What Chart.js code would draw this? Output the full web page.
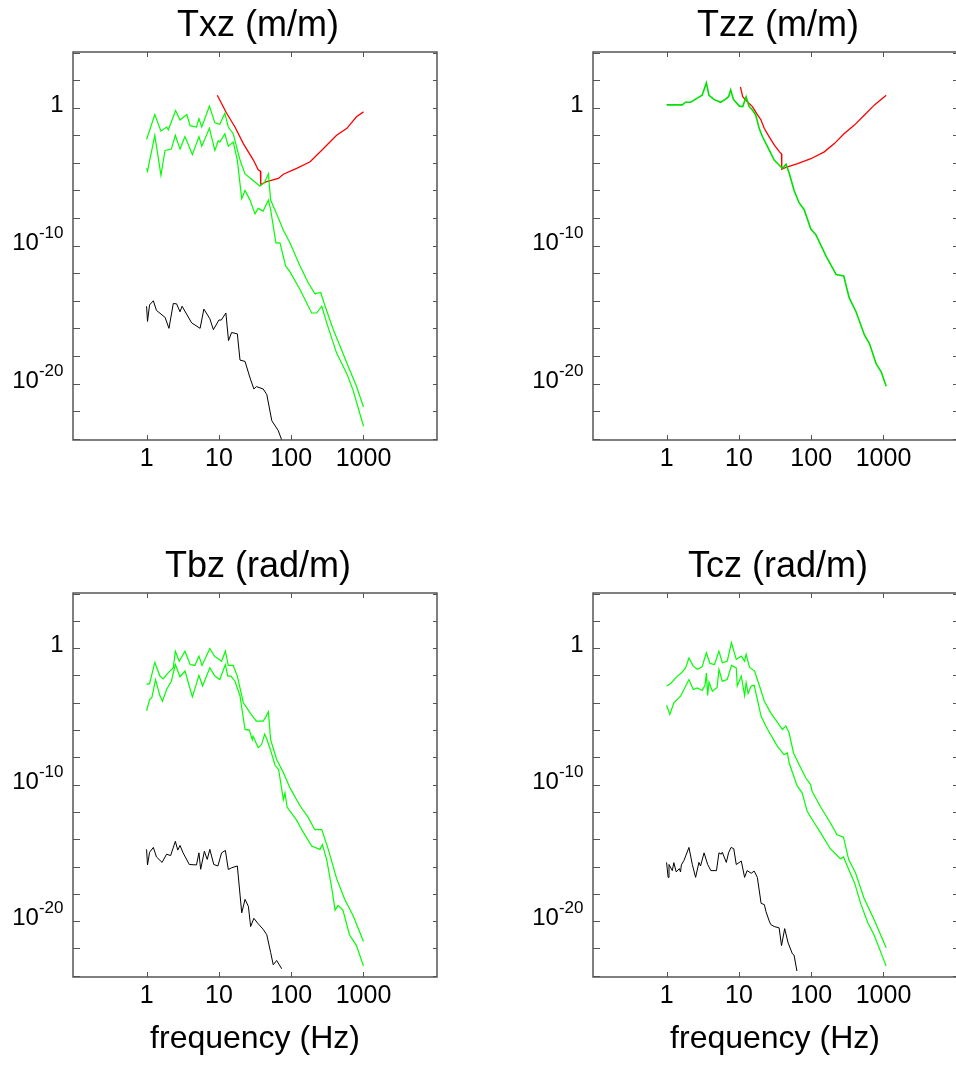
<!DOCTYPE html>
<html>
<head>
<meta charset="utf-8">
<title>Transfer functions</title>
<script src="https://cdn.jsdelivr.net/npm/chart.js@4.4.1/dist/chart.umd.min.js"></script>
<style>
    html, body { margin: 0; padding: 0; background: #fff; overflow: hidden; }
    #wrap { position: relative; width: 956px; height: 1067px; overflow: hidden; }
    canvas { position: absolute; }
</style>
</head>
<body>
<div id="wrap">
    <canvas id="chart_txz" width="478" height="540" style="left:0px;top:0px"></canvas>
    <canvas id="chart_tzz" width="478" height="540" style="left:520px;top:0px"></canvas>
    <canvas id="chart_tbz" width="478" height="527" style="left:0px;top:540px"></canvas>
    <canvas id="chart_tcz" width="478" height="527" style="left:520px;top:540px"></canvas>
</div>
<script>
// Ejes y etiquetas
var xTicks = [1, 10, 100, 1000];
var yTicks = [1e4, 1e2, 1, 1e-2, 1e-4, 1e-6, 1e-8, 1e-10, 1e-12, 1e-14, 1e-16, 1e-18, 1e-20, 1e-22, 1e-24];
var yLabelValues = [1, 1e-10, 1e-20];
var yLabelBase = ['1', '10', '10'];
var yLabelExp = ['', '-10', '-20'];
var xTitle = 'frequency (Hz)';

// Txz (m/m)
var txzUpF = [1, 1.3, 1.58, 1.89, 2.0, 2.52, 2.9, 3.6, 4.0, 4.9, 5.3, 5.8, 7.4, 8.8, 10.3, 12.1, 13.5, 15.8, 19.6, 23, 30, 37, 43, 48.4, 52, 63, 78, 96, 133, 172, 213, 256, 295, 383, 475, 620, 800, 1000];
var txzUpV = [5e-3, 3.2e-1, 2e-2, 4e-2, 2.5e-2, 6.3e-1, 1.3e-1, 3.2e-1, 5e-2, 4e-2, 1.6e-1, 4e-2, 1.3, 8e-2, 6.3e-2, 4e-1, 4e-2, 1.3e-2, 1.6e-4, 1.6e-5, 5e-6, 2e-6, 4e-6, 1.6e-5, 2e-7, 2e-8, 1.3e-9, 1.6e-10, 3.2e-12, 2e-13, 3.2e-14, 4e-14, 4e-15, 8e-17, 5e-18, 1.6e-19, 6.3e-21, 2e-22];
var txzLoF = [1, 1.03, 1.3, 1.58, 1.8, 2.2, 2.5, 2.9, 3.4, 4.3, 5.3, 5.8, 7.4, 8.8, 9.8, 10.3, 12.1, 13.5, 15.8, 18, 20.7, 23, 27, 31.6, 35, 41, 48.4, 52, 61.5, 70, 84, 96, 133, 192, 225, 265, 310, 425, 590, 720, 1000];
var txzLoV = [4e-5, 2.5e-5, 1e-2, 1.3e-5, 8e-4, 1e-3, 1e-2, 1e-3, 8e-3, 4e-4, 8e-3, 1.6e-3, 3.2e-2, 8e-4, 4e-3, 3.2e-3, 1.3e-2, 1.6e-3, 3.2e-3, 1.6e-4, 2.5e-7, 1e-6, 2e-7, 2e-8, 5e-8, 3.2e-8, 2e-7, 4e-8, 1.6e-10, 1.6e-10, 3.2e-12, 1.3e-12, 6.3e-14, 1.3e-15, 1.3e-15, 4e-15, 2.5e-16, 1.6e-18, 5e-20, 3.2e-21, 8e-24];
var txzRedF = [9.5, 12.8, 16.7, 21.8, 30, 35, 37.5, 38, 45.8, 66.5, 78, 119, 183, 280, 425, 590, 800, 1000];
var txzRedV = [8, 4e-1, 4e-2, 2.5e-3, 1.6e-4, 3.2e-5, 2.5e-5, 2.7e-6, 4.3e-6, 7.4e-6, 1.5e-5, 4e-5, 1.2e-4, 1.1e-3, 1e-2, 3.2e-2, 2.2e-1, 5e-1];
var txzBlkF = [1, 1.03, 1.1, 1.24, 1.37, 1.8, 2.04, 2.34, 2.6, 2.9, 3.1, 4.2, 5.5, 6.2, 7.5, 8.4, 10, 10.8, 12.5, 13.6, 15, 18, 19.6, 23, 27, 30.5, 33, 41, 46, 54, 66, 74];
var txzBlkV = [4e-15, 3.2e-16, 5e-15, 1e-14, 2e-15, 6.3e-16, 1e-16, 6.3e-15, 6e-15, 1.6e-15, 4e-15, 2.5e-16, 1e-16, 2.5e-15, 5e-16, 8e-17, 4e-16, 4e-16, 1.3e-15, 1.3e-17, 5e-17, 4e-17, 5e-19, 4e-19, 2.5e-20, 4e-21, 6e-21, 4e-21, 1.6e-21, 2e-23, 4e-24, 8e-25];

// Tzz (m/m)
var tzzGrnF = [1, 1.65, 1.83, 2.15, 2.66, 3.1, 3.55, 3.86, 4.5, 5.6, 6.5, 7.2, 7.7, 8.4, 10.2, 11.3, 12.6, 13.9, 15.4, 17.1, 19.1, 21.2, 24.9, 30.8, 38, 40, 45, 50, 58, 68, 80, 99, 116, 162, 222, 282, 336, 417, 547, 640, 790, 930, 1090];
var tzzGrnV = [1.6, 1.6, 2.5, 2.5, 5, 8, 63, 8, 4, 2.5, 4, 6.3, 20, 4, 1.3, 1.2, 6.3, 1.2, 6.8e-1, 3e-1, 3.2e-2, 7.8e-3, 1.5e-3, 1.6e-4, 5.2e-5, 4e-5, 8e-5, 1.6e-5, 1e-6, 1.3e-7, 4e-8, 1.6e-9, 6.3e-10, 1.6e-11, 8e-13, 6.3e-13, 1.6e-14, 1.6e-15, 3.2e-17, 8e-18, 2.8e-19, 7e-20, 6.3e-21];
var tzzRedF = [10.5, 11.3, 13.1, 15.4, 18.1, 20.1, 22.4, 26.3, 30.8, 36.3, 38.9, 39.2, 46, 65, 99, 152, 209, 285, 396, 546, 751, 1090];
var tzzRedV = [32, 6.3, 2.7, 1.2, 3e-1, 1.4e-1, 3.2e-2, 7.8e-3, 2e-3, 6.5e-4, 4.4e-4, 3.4e-5, 5e-5, 9e-5, 2e-4, 6.3e-4, 2.5e-3, 1.3e-2, 5.5e-2, 3e-1, 1.6, 8];

// Tbz (rad/m)
var tbzUpF = [1, 1.1, 1.3, 1.53, 1.7, 2.0, 2.34, 2.5, 2.83, 3.4, 4.0, 4.65, 5.3, 5.85, 7.5, 8.8, 9.8, 10.9, 12.3, 13.5, 15.8, 18, 21.8, 27, 33, 41, 45, 48.4, 52, 63, 78, 96, 133, 172, 212, 265, 326, 425, 550, 720, 1000];
var tbzUpV = [2.2e-3, 2.5e-3, 9e-2, 9e-3, 5.6e-3, 1.6e-2, 3.6e-2, 6e-1, 1.1e-1, 6e-1, 6.3e-2, 5.4e-2, 2.6e-1, 5.4e-2, 9.5e-1, 2.3e-1, 1.7e-1, 1.1e-1, 6e-1, 5.4e-2, 5.4e-2, 9e-3, 1e-4, 1.8e-5, 4.5e-6, 4.5e-6, 1e-5, 2.2e-5, 2e-7, 7e-9, 7.6e-10, 6e-11, 2.7e-12, 4e-13, 5e-14, 5e-14, 1.8e-15, 1.3e-17, 4e-19, 2.5e-20, 3.2e-22];
var tbzLoF = [1, 1.1, 1.18, 1.33, 1.53, 1.66, 1.89, 2.2, 2.5, 2.9, 3.4, 4.3, 5.3, 5.95, 7.5, 8.8, 10.3, 12.3, 13.3, 14.7, 16.7, 19.6, 23, 26.4, 29, 29.7, 35, 39, 43, 46, 52, 60, 67, 78, 82, 88, 119, 140, 192, 250, 270, 310, 365, 405, 445, 520, 640, 800, 1000];
var tbzLoV = [2.5e-5, 1.7e-4, 2.3e-4, 5e-3, 3.2e-4, 1.3e-4, 9.3e-4, 3.8e-3, 6.3e-2, 8e-3, 2.1e-2, 2.7e-4, 1e-2, 1.7e-3, 3.6e-2, 9e-3, 5e-3, 6.3e-2, 9e-3, 9e-3, 3.8e-3, 3.2e-4, 1.1e-6, 1e-6, 2e-7, 3.5e-7, 5e-8, 9e-8, 5e-7, 2.2e-7, 3.2e-8, 2.5e-9, 1.3e-9, 8e-12, 2.5e-11, 2.2e-12, 2.5e-13, 5e-14, 3.2e-15, 1.8e-15, 4e-15, 3.2e-16, 2.5e-18, 6.3e-20, 1.4e-19, 6.3e-20, 1e-21, 1.6e-22, 5e-24];
var tbzBlkF = [1, 1.03, 1.1, 1.24, 1.37, 1.64, 1.89, 2.15, 2.5, 2.7, 2.9, 3.2, 3.9, 4.9, 5.3, 5.6, 6.3, 6.9, 7.5, 8.5, 9.7, 10.9, 12.3, 13.5, 15, 18, 20.7, 23, 25.6, 27.5, 30.5, 35, 41, 46, 52, 56.5, 63, 74];
var tbzBlkV = [1.8e-15, 1.3e-16, 1.1e-15, 2.5e-15, 5e-16, 2e-16, 8e-16, 6.3e-16, 7e-15, 1.6e-15, 3.5e-15, 1e-15, 1.4e-16, 1.3e-16, 1e-15, 6.3e-17, 1.3e-15, 3.3e-16, 1.8e-15, 1.4e-16, 1.1e-16, 1e-15, 1.5e-15, 6e-17, 8e-17, 1.1e-16, 4e-20, 3.9e-19, 1.2e-19, 4e-21, 1.6e-20, 6.3e-21, 2.5e-21, 1e-21, 5e-23, 6.3e-24, 1.3e-23, 3.2e-24];

// Tcz (rad/m)
var tczUpF = [1, 1.14, 1.41, 1.6, 1.83, 2.04, 2.34, 2.66, 3.1, 3.55, 3.98, 4.6, 5.3, 5.9, 6.9, 7.9, 9.2, 10.8, 12, 12.6, 14, 16.5, 19.3, 22.5, 27.6, 34, 40, 44.6, 49.5, 57, 68, 84, 98, 103, 134, 184, 227, 280, 330, 410, 537, 740, 1090];
var tczUpV = [1.7e-3, 2.6e-3, 9e-3, 1.5e-2, 3.6e-2, 1.9e-1, 4.8e-2, 2.8e-2, 4.3e-2, 4.6e-1, 7.6e-2, 6.3e-2, 6e-1, 8.5e-2, 1.1e-1, 2.5, 1.5e-1, 2.6e-1, 1.1e-1, 3.5e-1, 4e-2, 2.1e-2, 1.7e-3, 1.3e-4, 1.8e-5, 3.8e-6, 1.1e-6, 2e-6, 6.3e-7, 2.1e-8, 3e-9, 3.2e-10, 1e-10, 3.3e-11, 2.5e-12, 1.6e-13, 2.2e-14, 1.4e-14, 3.2e-16, 3.5e-17, 5e-19, 1.3e-20, 1.1e-22];
var tczLoF = [1, 1.11, 1.26, 1.56, 2.04, 2.34, 2.66, 3.1, 3.4, 3.55, 3.7, 3.86, 4.3, 5.0, 5.3, 5.9, 6.9, 7.9, 9.2, 9.5, 10.8, 12, 12.6, 13.4, 14.8, 16.3, 20.3, 25, 34, 42, 46.9, 49.5, 64, 75, 88, 110, 134, 184, 253, 280, 330, 398, 490, 605, 740, 1090];
var tczLoV = [6.6e-5, 1.4e-5, 1e-4, 3e-4, 5e-3, 9.3e-4, 1.2e-3, 8e-4, 1.9e-3, 1.5e-2, 3.4e-4, 3.2e-3, 7e-4, 1.3e-3, 2.8e-2, 3.8e-3, 5e-3, 5.4e-2, 3.6e-2, 1.7e-3, 9e-3, 3.4e-4, 2.9e-3, 4.8e-4, 1.7e-3, 1.9e-3, 1e-5, 1.1e-6, 6.6e-8, 1.6e-8, 2.1e-8, 4e-9, 8e-11, 2.5e-11, 1.1e-12, 1.6e-13, 3.2e-14, 2e-15, 3.7e-16, 5e-16, 6.3e-17, 6.3e-18, 1.6e-19, 8e-21, 1e-21, 5e-24];
var tczBlkF = [1, 1.05, 1.08, 1.2, 1.26, 1.36, 1.5, 1.56, 1.6, 1.74, 2.04, 2.27, 2.52, 2.8, 2.95, 3.3, 3.7, 4.1, 4.9, 5.3, 5.7, 5.9, 6.7, 7.2, 7.8, 8.5, 9.2, 10.8, 12, 13, 14.8, 16.3, 18, 20.3, 22.5, 23.7, 26.3, 27.6, 30.8, 36, 38.9, 43, 48, 55, 58, 63.5];
var tczBlkV = [2e-16, 1.6e-17, 1.4e-16, 5e-17, 1.9e-16, 4e-17, 7e-17, 4e-17, 1.3e-16, 2.8e-16, 2.5e-15, 1.4e-16, 1.6e-17, 2e-16, 1.1e-16, 1e-15, 1.4e-16, 5e-17, 5e-17, 1e-15, 8e-16, 1.1e-15, 2e-16, 1e-15, 2.5e-15, 2e-15, 1.4e-16, 2.5e-16, 1.6e-17, 5e-17, 3.2e-17, 4.6e-17, 1.6e-17, 2e-19, 1.6e-19, 5e-20, 1e-20, 5.6e-21, 4e-21, 3.2e-21, 1.6e-22, 2.8e-21, 2.5e-22, 4e-23, 3.2e-23, 2.2e-24];


var FONT = "'Liberation Sans', Arial, sans-serif";

// junta frecuencias y valores en puntos {x, y}
function puntos(fs, vs) {
    var out = [];
    for (var i = 0; i < Math.min(fs.length, vs.length); i++) {
        out.push({ x: fs[i], y: vs[i] });
    }
    return out;
}

function serie(fs, vs, color, width) {
    return {
        data: puntos(fs, vs),
        borderColor: color,
        borderWidth: width || 1,
        pointRadius: 0,
        tension: 0,
        fill: false
    };
}

// marco con ticks hacia adentro, etiquetas del eje y con exponente y titulo
var marco = {
    id: 'marco',
    afterDatasetsDraw: function (chart, args, opts) {
        var ctx = chart.ctx;
        var a = chart.chartArea;
        var sx = chart.scales.x;
        var sy = chart.scales.y;
        ctx.save();
        ctx.strokeStyle = '#555555';
        ctx.lineWidth = 1;
        ctx.beginPath();
        xTicks.forEach(function (v) {
            var px = Math.round(sx.getPixelForValue(v)) + 0.5;
            ctx.moveTo(px, a.top);
            ctx.lineTo(px, a.top + 5);
            ctx.moveTo(px, a.bottom);
            ctx.lineTo(px, a.bottom - 5);
        });
        yTicks.forEach(function (v) {
            var py = Math.round(sy.getPixelForValue(v)) + 0.5;
            ctx.moveTo(a.left, py);
            ctx.lineTo(a.left + 7, py);
            ctx.moveTo(a.right, py);
            ctx.lineTo(a.right - 4, py);
        });
        ctx.stroke();
        ctx.lineWidth = 1.5;
        ctx.strokeRect(a.left, a.top, a.right - a.left, a.bottom - a.top);

        ctx.fillStyle = '#000';
        ctx.textBaseline = 'alphabetic';
        ctx.textAlign = 'right';
        yLabelValues.forEach(function (v, i) {
            var py = sy.getPixelForValue(v) + 4;
            var xr = a.left - 9.5;
            if (yLabelExp[i]) {
                ctx.font = '17px ' + FONT;
                ctx.fillText(yLabelExp[i], xr, py - 12);
                xr -= ctx.measureText(yLabelExp[i]).width;
            }
            ctx.font = '24px ' + FONT;
            ctx.fillText(yLabelBase[i], xr, py);
        });

        ctx.font = '36px ' + FONT;
        ctx.textAlign = 'center';
        ctx.fillText(opts.title, (a.left + a.right) / 2 + 3, a.top - 16.5);
        ctx.restore();
    }
};

function crearPanel(id, titulo, datasets, padTop, xHeight, conTituloX) {
    var canvas = document.getElementById(id);
    return new Chart(canvas, {
        type: 'line',
        data: { datasets: datasets },
        options: {
            responsive: false,
            animation: false,
            devicePixelRatio: 1,
            events: [],
            layout: { padding: { top: padTop, right: 41, bottom: 0, left: 0 } },
            plugins: {
                legend: { display: false },
                tooltip: { enabled: false },
                marco: { title: titulo }
            },
            scales: {
                x: {
                    type: 'logarithmic',
                    min: 0.096,
                    max: 10400,
                    grid: { display: false, drawTicks: false },
                    border: { display: false },
                    afterBuildTicks: function (scale) {
                        scale.ticks = xTicks.map(function (v) { return { value: v }; });
                    },
                    afterFit: function (scale) { scale.height = xHeight; },
                    ticks: {
                        autoSkip: false,
                        maxRotation: 0,
                        padding: 4,
                        color: '#000',
                        font: { family: FONT, size: 25 },
                        callback: function (v) { return String(v); }
                    },
                    title: {
                        display: conTituloX,
                        text: xTitle,
                        color: '#000',
                        font: { family: FONT, size: 32 },
                        padding: { top: 0, bottom: 9 }
                    }
                },
                y: {
                    type: 'logarithmic',
                    min: 8e-25,
                    max: 1.1e4,
                    grid: { display: false, drawTicks: false },
                    border: { display: false },
                    ticks: { display: false },
                    afterFit: function (scale) { scale.width = 73; }
                }
            }
        },
        plugins: [marco]
    });
}

var GREEN = '#00ff00';
var RED = '#ff0000';
var BLACK = '#000000';

var chart_txz = crearPanel('chart_txz', 'Txz (m/m)', [
    serie(txzBlkF, txzBlkV, BLACK),
    serie(txzLoF, txzLoV, GREEN, 1.2),
    serie(txzUpF, txzUpV, GREEN, 1.2),
    serie(txzRedF, txzRedV, RED, 1.3)
], 52, 100, false);

var chart_tzz = crearPanel('chart_tzz', 'Tzz (m/m)', [
    serie(tzzGrnF, tzzGrnV, '#00e000', 1.6),
    serie(tzzRedF, tzzRedV, RED, 1.3)
], 52, 100, false);

var chart_tbz = crearPanel('chart_tbz', 'Tbz (rad/m)', [
    serie(tbzBlkF, tbzBlkV, BLACK),
    serie(tbzLoF, tbzLoV, GREEN, 1.2),
    serie(tbzUpF, tbzUpV, GREEN, 1.2)
], 53, 90, true);

var chart_tcz = crearPanel('chart_tcz', 'Tcz (rad/m)', [
    serie(tczBlkF, tczBlkV, BLACK),
    serie(tczLoF, tczLoV, GREEN, 1.2),
    serie(tczUpF, tczUpV, GREEN, 1.2)
], 53, 90, true);
</script>
</body>
</html>
